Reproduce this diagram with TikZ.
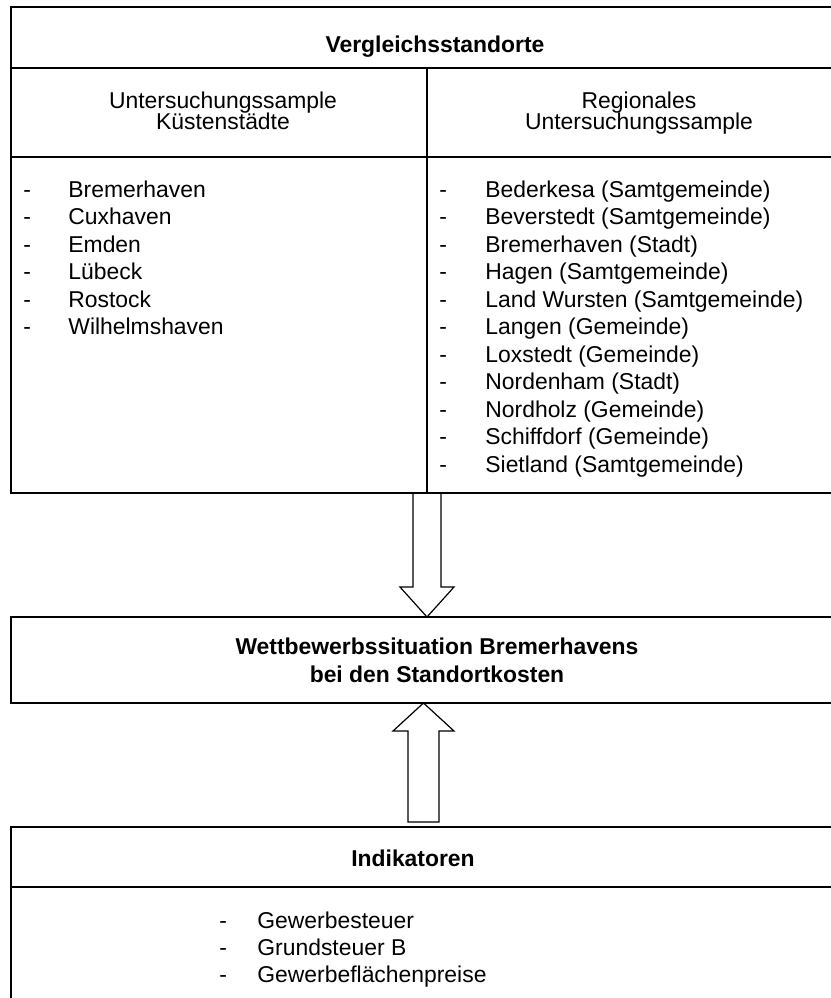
\documentclass[tikz,border=0pt]{standalone}
\usepackage{fontspec}
\setmainfont{Liberation Sans}
\usetikzlibrary{calc}

\tikzset{
  frame/.style={line width=1pt},
  blockarrow/.style={line width=0.6pt, fill=white, line join=miter},
  title/.style={font=\bfseries\fontsize{11.45}{14}\selectfont, anchor=base, inner sep=0pt},
  head/.style={font=\fontsize{11.45}{14}\selectfont, anchor=base, inner sep=0pt},
  item/.style={font=\fontsize{11.45}{14}\selectfont, anchor=base west, inner sep=0pt},
}

\begin{document}
\begin{tikzpicture}[x=0.5pt,y=-0.5pt]
      \clip (0,0) rectangle (831,998);
      % block arrows
      \coordinate (a1s) at (427,493);
      \coordinate (a1e) at (427,617);
      \draw[blockarrow] ($(a1s)+(-14,0)$) -- ($(a1e)+(-14,-30)$) -- ($(a1e)+(-27,-30)$)
        -- (a1e) -- ($(a1e)+(27,-30)$) -- ($(a1e)+(14,-30)$) -- ($(a1s)+(14,0)$);
      \coordinate (a2s) at (423.5,822);
      \coordinate (a2e) at (423.5,703);
      \draw[blockarrow] ($(a2s)+(-15.5,0)$) -- ($(a2e)+(-15.5,28)$) -- ($(a2e)+(-30.5,28)$)
        -- (a2e) -- ($(a2e)+(30.5,28)$) -- ($(a2e)+(15.5,28)$) -- ($(a2s)+(15.5,0)$) -- cycle;
      % top box
      \draw[frame] (11,7) rectangle (860,493);
      \draw[frame] (11,68) -- (860,68);
      \draw[frame] (11,157) -- (860,157);
      \draw[frame] (427,68) -- (427,493);
      % middle box
      \draw[frame] (11,617) rectangle (860,703);
      % bottom box
      \draw[frame] (11,827) rectangle (860,1010);
      \draw[frame] (11,887) -- (860,887);
      % headings
      \node[title] (vgl) at (435,52) {Vergleichsstandorte};
      \node[head] (kueA) at (223,108) {Untersuchungssample};
      \node[head] (kueB) at (223,129) {Küstenstädte};
      \node[head] (regA) at (639,108) {Regionales};
      \node[head] (regB) at (639,129) {Untersuchungssample};
      \node[title] (wbA) at (437,654) {Wettbewerbssituation Bremerhavens};
      \node[title] (wbB) at (437,682) {bei den Standortkosten};
      \node[title] (ind) at (413,866) {Indikatoren};
      % lists
      \foreach \name [count=\i from 0] in {Bremerhaven, Cuxhaven, Emden, Lübeck, Rostock, Wilhelmshaven} {
        \node[item] (kd\i) at (23,197+27.5*\i) {-};
        \node[item] (kt\i) at (68,197+27.5*\i) {\name};
      }
      \foreach \name [count=\i from 0] in {{Bederkesa (Samtgemeinde)}, {Beverstedt (Samtgemeinde)},
          {Bremerhaven (Stadt)}, {Hagen (Samtgemeinde)}, {Land Wursten (Samtgemeinde)},
          {Langen (Gemeinde)}, {Loxstedt (Gemeinde)}, {Nordenham (Stadt)},
          {Nordholz (Gemeinde)}, {Schiffdorf (Gemeinde)}, {Sietland (Samtgemeinde)}} {
        \node[item] (rd\i) at (439,197+27.5*\i) {-};
        \node[item] (rt\i) at (485,197+27.5*\i) {\name};
      }
      \foreach \name [count=\i from 0] in {Gewerbesteuer, Grundsteuer B, Gewerbeflächenpreise} {
        \node[item] (id\i) at (219,928+27*\i) {-};
        \node[item] (it\i) at (257,928+27*\i) {\name};
      }
    \end{tikzpicture}
\end{document}
